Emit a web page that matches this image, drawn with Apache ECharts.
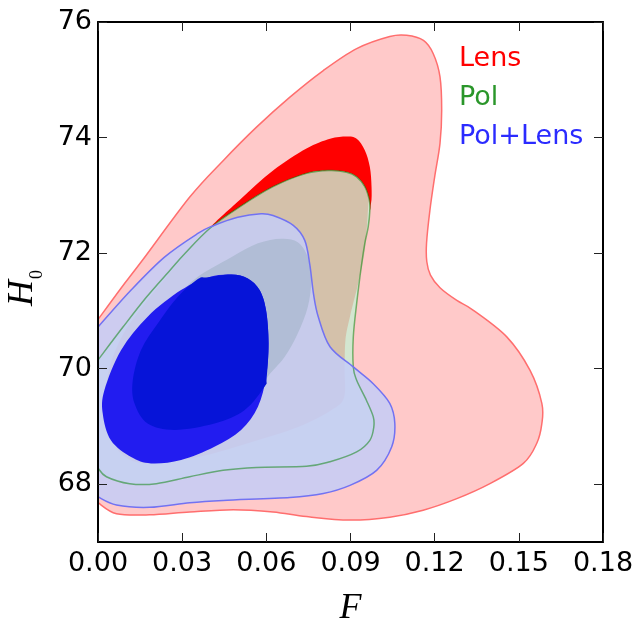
<!DOCTYPE html>
<html>
<head>
<meta charset="utf-8">
<script src="https://cdn.jsdelivr.net/npm/echarts@6/dist/echarts.min.js"></script>
<style>
  html, body { margin: 0; padding: 0; background: #fff; }
  #chart { width: 637px; height: 620px; }
</style>
</head>
<body>
<div id="chart"></div>
<script>
// tick values
const xTicks = [0, 0.03, 0.06, 0.09, 0.12, 0.15, 0.18];
const yTicks = [68, 70, 72, 74, 76];

// contour outlines [F, H0]
const lensOuter = [[0,70.85],[0.008,71.38],[0.0159,71.88],[0.0327,72.97],[0.0446,73.6],[0.0565,74.18],[0.0684,74.7],[0.0803,75.16],[0.0922,75.54],[0.104,75.75],[0.110,75.77],[0.116,75.68],[0.1195,75.45],[0.1219,75.05],[0.1225,74.47],[0.1219,73.9],[0.120,73.32],[0.1183,72.74],[0.1171,72.17],[0.1172,71.85],[0.1185,71.62],[0.1219,71.40],[0.1279,71.18],[0.1338,71.01],[0.1457,70.55],[0.154,69.97],[0.1582,69.40],[0.1582,69.05],[0.1564,68.71],[0.1516,68.36],[0.1397,68.01],[0.1279,67.75],[0.1159,67.55],[0.104,67.43],[0.0898,67.38],[0.0743,67.44],[0.0624,67.52],[0.0482,67.56],[0.0327,67.52],[0.0184,67.47],[0.0066,67.49],[0,67.68]];
const lensInner = [[0.0399,72.43],[0.0505,72.92],[0.0624,73.43],[0.0743,73.81],[0.0827,73.98],[0.0886,74.02],[0.0922,73.98],[0.0951,73.78],[0.0969,73.49],[0.0975,73.15],[0.0973,72.86],[0.0955,72.7],[0.085,72.8],[0.06,72.7],[0.046,72.5]];
const polOuter = [[0,70.15],[0.0089,70.72],[0.0173,71.24],[0.0256,71.70],[0.0309,71.99],[0.0399,72.43],[0.0505,72.80],[0.0624,73.15],[0.0743,73.38],[0.0827,73.43],[0.0886,73.40],[0.0922,73.32],[0.0951,73.15],[0.0967,72.92],[0.0969,72.74],[0.0963,72.45],[0.0951,72.17],[0.094,71.82],[0.0922,71.13],[0.091,70.55],[0.091,70.03],[0.0922,69.80],[0.0957,69.45],[0.0981,69.17],[0.0983,68.99],[0.0969,68.76],[0.0922,68.56],[0.0827,68.39],[0.0743,68.31],[0.0565,68.29],[0.0446,68.24],[0.0327,68.13],[0.0208,68.01],[0.0113,68.01],[0.003,68.13],[0,68.28]];
const polInner = [[0.0399,72.43],[0.0505,72.80],[0.0624,73.15],[0.0743,73.38],[0.0827,73.43],[0.0886,73.40],[0.0922,73.32],[0.0951,73.15],[0.0964,72.95],[0.0963,72.80],[0.0951,72.05],[0.0927,71.47],[0.0898,70.90],[0.0882,70.5],[0.0879,70.0],[0.0877,69.5],[0.0831,69.28],[0.0713,68.99],[0.0534,68.71],[0.0356,68.47],[0.0177,68.36],[0.009,68.5],[0.004,68.9],[0.003,69.5],[0.004,70.0],[0.009,70.6],[0.017,71.15],[0.025,71.62],[0.032,72.02]];
const bothOuter = [[0,70.72],[0.0118,71.36],[0.0237,71.93],[0.0356,72.34],[0.0409,72.47],[0.0498,72.62],[0.0581,72.68],[0.0624,72.65],[0.0696,72.48],[0.0737,72.22],[0.0755,71.8],[0.0768,71.3],[0.0785,70.9],[0.0827,70.38],[0.091,70.03],[0.0981,69.74],[0.104,69.40],[0.1058,69.05],[0.1047,68.65],[0.0993,68.24],[0.0898,67.98],[0.0803,67.84],[0.0684,67.77],[0.0446,67.72],[0.0327,67.68],[0.0184,67.60],[0.0066,67.64],[0,67.78]];
const bothShade = [[0.0356,71.59],[0.0475,71.93],[0.057,72.17],[0.0653,72.25],[0.0712,72.19],[0.0748,71.93],[0.076,71.53],[0.0748,71.07],[0.0712,70.61],[0.0665,70.20],[0.0605,69.86],[0.0594,69.69],[0.0522,69.28],[0.0415,69.05],[0.0273,68.94],[0.0177,69.05],[0.013,69.40],[0.0124,69.80],[0.0153,70.32],[0.0213,70.78],[0.0284,71.24]];
const bothInner = [[0.0475,71.63],[0.0391,71.58],[0.0296,71.36],[0.0177,70.90],[0.0082,70.32],[0.0023,69.63],[0.0017,69.22],[0.0046,68.76],[0.0118,68.47],[0.0189,68.36],[0.0296,68.42],[0.0415,68.65],[0.051,68.94],[0.057,69.34],[0.0599,69.86],[0.0608,70.44],[0.0599,71.01],[0.0576,71.36],[0.0534,71.56]];
const bothCore = [[0.0356,71.55],[0.0284,71.24],[0.0213,70.78],[0.0153,70.32],[0.0124,69.80],[0.013,69.40],[0.0177,69.05],[0.0273,68.94],[0.0415,69.05],[0.0522,69.28],[0.0594,69.69],[0.0601,69.83],[0.0608,70.44],[0.0599,71.01],[0.0576,71.36],[0.0534,71.56],[0.0475,71.63],[0.0391,71.58]];

const legendNames = ['Lens', 'Pol', 'Pol+Lens'];
const legendColors = ['#ff0000', '#2a962a', '#2b2bff'];

// catmull-rom through the pixel points -> svg path
// mode: 'loop' smooth all round, 'edge' smooth curve then straight back along the axis, 'open' no closing
function splinePath(p, mode) {
  const n = p.length;
  const loop = mode === 'loop';
  const at = function (i) {
    if (loop) return p[(i + n) % n];
    return p[Math.max(0, Math.min(n - 1, i))];
  };
  let d = 'M' + p[0][0] + ',' + p[0][1];
  const segs = loop ? n : n - 1;
  for (let i = 0; i < segs; i++) {
    const p0 = at(i - 1), p1 = at(i), p2 = at(i + 1), p3 = at(i + 2);
    const c1x = p1[0] + (p2[0] - p0[0]) / 6, c1y = p1[1] + (p2[1] - p0[1]) / 6;
    const c2x = p2[0] - (p3[0] - p1[0]) / 6, c2y = p2[1] - (p3[1] - p1[1]) / 6;
    d += 'C' + c1x + ',' + c1y + ',' + c2x + ',' + c2y + ',' + p2[0] + ',' + p2[1];
  }
  return mode === 'open' ? d : d + 'Z';
}

function contour(name, pts, style, mode) {
  return {
    type: 'custom', name: name, coordinateSystem: 'cartesian2d', clip: true, silent: true,
    data: pts,
    renderItem: function (params, api) {
      if (params.dataIndex !== 0) return null;
      const px = pts.map(function (p) { return api.coord(p); });
      return { type: 'path', shape: { pathData: splinePath(px, mode) }, style: style };
    }
  };
}
function region(name, pts, fill, mode) {
  return contour(name, pts, { fill: fill, stroke: null }, mode || 'loop');
}
function outline(name, pts, color) {
  return contour(name, pts, { fill: null, stroke: color, lineWidth: 1.5 }, 'open');
}

const axisLine = { show: true, onZero: false, lineStyle: { color: '#000', width: 2 } };
const tickStyle = { color: '#222', width: 1 };
const tickFont = { fontSize: 27, fontFamily: 'DejaVu Sans', color: '#000' };

const chart = echarts.init(document.getElementById('chart'), null, { renderer: 'canvas' });

chart.setOption({
  animation: false,
  backgroundColor: '#fff',
  grid: { left: 98, right: 34, top: 22, bottom: 78, containLabel: false, outerBoundsMode: 'none' },
  xAxis: [
    {
      type: 'value', min: 0, max: 0.18, position: 'bottom', z: 10,
      axisLine: axisLine,
      axisTick: { inside: true, length: 9, customValues: xTicks, lineStyle: tickStyle },
      axisLabel: Object.assign({ customValues: xTicks, margin: 8, formatter: function (v) { return v.toFixed(2); } }, tickFont),
      splitLine: { show: false },
      name: 'F', nameLocation: 'middle', nameGap: 49,
      nameTextStyle: { fontFamily: 'Liberation Serif', fontStyle: 'italic', fontSize: 36, color: '#000' }
    },
    {
      type: 'value', min: 0, max: 0.18, position: 'top', z: 10,
      axisLine: axisLine,
      axisTick: { inside: true, length: 9, customValues: xTicks, lineStyle: tickStyle },
      axisLabel: { show: false },
      splitLine: { show: false }
    }
  ],
  yAxis: [
    {
      type: 'value', min: 67, max: 76, position: 'left', z: 10,
      axisLine: axisLine,
      axisTick: { inside: true, length: 9, customValues: yTicks, lineStyle: tickStyle },
      axisLabel: Object.assign({ customValues: yTicks, margin: 6 }, tickFont),
      splitLine: { show: false },
      name: '{h|H}{s|0}', nameLocation: 'middle', nameRotate: 90, nameGap: 53,
      nameTextStyle: {
        rich: {
          h: { fontFamily: 'Liberation Serif', fontStyle: 'italic', fontSize: 36, color: '#000', verticalAlign: 'top', lineHeight: 36 },
          s: { fontFamily: 'Liberation Serif', fontSize: 18, color: '#000', verticalAlign: 'top', lineHeight: 18, padding: [24, 12, 0, 1] }
        }
      }
    },
    {
      type: 'value', min: 67, max: 76, position: 'right', z: 10,
      axisLine: axisLine,
      axisTick: { inside: true, length: 9, customValues: yTicks, lineStyle: tickStyle },
      axisLabel: { show: false },
      splitLine: { show: false }
    }
  ],
  graphic: legendNames.map(function (n, i) {
    return {
      type: 'text', left: 459, top: 45 + i * 39, z: 20,
      style: { text: n, fill: legendColors[i], font: '27px "DejaVu Sans"' }
    };
  }),
  series: [
    region('Lens', lensOuter, '#ffc9c9', 'edge'),
    region('Lens', lensInner, '#ff0000'),
    region('Pol', polOuter, '#d3e6d0', 'edge'),
    region('Pol', polInner, '#d4c1aa'),
    region('Pol+Lens', bothOuter, 'rgba(196,205,247,0.85)', 'edge'),
    region('Pol+Lens', bothShade, '#b1bdd6'),
    region('Pol+Lens', bothInner, '#221cf0'),
    region('Pol+Lens', bothCore, '#0614d8'),
    outline('Lens', lensOuter, '#ff6e6e'),
    outline('Pol', polOuter, 'rgba(0,128,0,0.5)'),
    outline('Pol+Lens', bothOuter, '#7272f2')
  ]
});
</script>
</body>
</html>
